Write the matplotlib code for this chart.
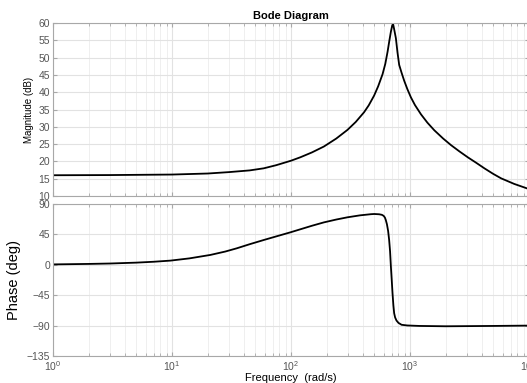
import numpy as np
import matplotlib.pyplot as plt
from matplotlib.ticker import LogLocator, NullFormatter

# values
mag_w = [1, 3, 10, 20, 30, 45, 59, 75, 100, 120, 150, 189, 240, 298, 350, 411, 450, 499, 540, 588, 620, 648, 670, 691, 710, 722, 735, 761, 785, 811, 850, 894, 950, 1018, 1100, 1237, 1400, 1600, 1900, 2212, 2600, 3055, 3600, 4218, 5000, 5834, 7500, 10000]
mag_db = [16.0, 16.05, 16.2, 16.5, 16.9, 17.4, 18.0, 18.9, 20.2, 21.2, 22.6, 24.3, 26.6, 29.1, 31.4, 34.2, 36.2, 39.0, 41.7, 45.2, 48.2, 51.7, 54.8, 57.5, 59.4, 59.6, 58.3, 55.6, 51.5, 47.9, 45.6, 43.3, 40.9, 38.5, 36.3, 33.6, 31.2, 29.0, 26.6, 24.7, 22.9, 21.2, 19.6, 18.0, 16.4, 15.1, 13.5, 12.0]

ph_w = [1, 2, 3, 5, 7, 9.7, 14, 21, 28, 35, 45, 59, 75, 99, 120, 150, 189, 240, 298, 380, 469, 500, 550, 580, 600, 615, 626, 640, 655, 668, 680, 691, 702, 713, 725, 736, 750, 770, 800, 850, 950, 1196, 2000, 5000, 10000]
ph_deg = [0.6, 1.3, 1.9, 3.2, 4.5, 6.2, 9.5, 14.6, 19.6, 24.4, 30.5, 36.7, 42.0, 48.1, 52.6, 57.8, 62.8, 67.0, 70.3, 73.2, 74.9, 75.2, 74.8, 74.0, 72.5, 70.0, 66.3, 60.0, 50.0, 36.7, 20.0, -2.7, -22.0, -42.0, -60.0, -71.7, -78.0, -82.5, -86.0, -88.8, -89.8, -90.5, -91.0, -90.5, -90.0]

mag_ticks = list(range(10, 61, 5))
ph_ticks = [-135, -90, -45, 0, 45, 90]

plt.rcParams['font.family'] = ['Liberation Sans', 'DejaVu Sans']

fig = plt.figure(figsize=(5.27, 3.83), dpi=100)
W, H = 527.0, 383.0
ax1 = fig.add_axes([53/W, 1-196/H, 476/W, 173/H])
ax2 = fig.add_axes([53/W, 1-356/H, 476/W, 152/H])

def style(ax):
    ax.set_xscale('log')
    ax.set_xlim(1, 1e4)
    ax.xaxis.set_major_locator(LogLocator(base=10, numticks=10))
    ax.xaxis.set_minor_locator(LogLocator(base=10, subs=np.arange(2, 10), numticks=10))
    ax.xaxis.set_minor_formatter(NullFormatter())
    ax.grid(True, which='major', color='#e2e2e2', linewidth=0.8)
    ax.grid(True, which='minor', color='#ececec', linewidth=0.6)
    ax.set_axisbelow(True)
    for s in ax.spines.values():
        s.set_color('#a8a8a8')
        s.set_linewidth(0.8)
    ax.tick_params(which='both', direction='in', top=True, right=True,
                   colors='#a8a8a8', labelcolor='#555555', labelsize=7.5, pad=2)
    ax.tick_params(which='major', length=3)
    ax.tick_params(which='minor', length=2)

style(ax1)
style(ax2)

ax1.plot(mag_w, mag_db, color='black', linewidth=1.3)
ax1.set_ylim(10, 60)
ax1.set_yticks(mag_ticks)
ax1.tick_params(axis='x', labelbottom=False)
ax1.set_ylabel('Magnitude (dB)', fontsize=7, labelpad=3)
ax1.set_title('Bode Diagram', fontsize=8, fontweight='bold', pad=3)

ax2.plot(ph_w, ph_deg, color='black', linewidth=1.3)
ax2.set_ylim(-135, 90)
ax2.set_yticks(ph_ticks)
ax2.set_ylabel('Phase (deg)', fontsize=10.5, labelpad=4)
ax2.set_xlabel('Frequency  (rad/s)', fontsize=8, labelpad=0)

fig.savefig('out.png', dpi=100)
